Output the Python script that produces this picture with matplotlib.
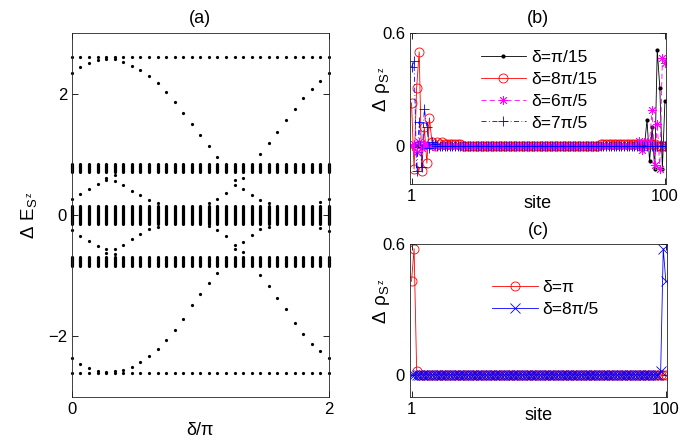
import numpy as np
import matplotlib.pyplot as plt

plt.rcParams['font.family'] = ['Liberation Sans', 'DejaVu Sans']
plt.rcParams['mathtext.default'] = 'regular'
plt.rcParams['font.size'] = 12

# ---- (a) spectrum against delta/pi ----
delta = np.linspace(0, 2, 31)
flat_E = [2.61, -2.61]
band_lo = [0.70, -0.15, -0.84]
band_hi = [0.84, 0.15, -0.70]

out_col = [0, 1, 2, 3, 4, 5, 6, 7, 8, 9, 10, 11, 12, 13, 14, 15, 16, 17,
           22, 23, 24, 25, 26, 27, 28, 29, 30]
out_up = [2.34, 2.43, 2.50, 2.55, 2.57, 2.57, 2.52, 2.46, 2.39, 2.29, 2.17, 2.02,
          1.86, 1.68, 1.50, 1.31, 1.13, 0.95,
          1.01, 1.18, 1.37, 1.56, 1.74, 1.92, 2.07, 2.21, 2.34]
out_dn = [-2.36, -2.45, -2.52, -2.57, -2.59, -2.58, -2.55, -2.50, -2.43, -2.33, -2.21, -2.06,
          -1.90, -1.71, -1.49, -1.31, -1.13, -0.96,
          -0.99, -1.18, -1.37, -1.55, -1.78, -1.96, -2.12, -2.25, -2.36]

in_col = [0, 1, 2, 3, 4, 4, 5, 5, 6, 7, 8, 9, 10,
          16, 17, 18, 19, 19, 20, 20, 21, 22, 23, 29, 30]
in_up = [0.27, 0.35, 0.42, 0.51, 0.57, 0.61, 0.56, 0.65, 0.49, 0.40, 0.32, 0.25, 0.20,
         0.19, 0.26, 0.36, 0.49, 0.57, 0.43, 0.61, 0.32, 0.24, 0.20, 0.21, 0.27]
in_dn = [-0.25, -0.35, -0.43, -0.52, -0.56, -0.63, -0.56, -0.64, -0.49, -0.40, -0.32, -0.24, -0.20,
         -0.19, -0.25, -0.35, -0.49, -0.57, -0.45, -0.61, -0.33, -0.24, -0.20, -0.21, -0.27]

# ---- (b) and (c) edge densities over 100 sites ----
sites = np.arange(1, 101)
b1_right = [0.0, 0.14, -0.08, 0.10, -0.12, 0.51, 0.31, -0.12, 0.24]        # sites 92-100
b2_left = [0.23, -0.12, 0.31, 0.50, -0.13, 0.10, -0.09, 0.15, 0.02, 0.0, 0.02, 0.01, 0.02]  # 1-13
b2_small = 0.01                                                                # sites 14-20, 75-96
b3_left = [0.0, 0.01, -0.03, 0.02, -0.01, 0.01]                               # sites 1-6
b3_right = [0.03, -0.02, 0.02, 0.0, 0.03, 0.19, -0.10, 0.12, -0.12, 0.47, 0.44]  # 90-100
b4_left = [0.42, 0.45, -0.13, 0.13, -0.11, 0.20, 0.10, -0.01, 0.02, 0.01]     # sites 1-10
b_labels = ['δ=π/15', 'δ=8π/15', 'δ=6π/5', 'δ=7π/5']

c1_left = [0.43, 0.58, 0.02]     # sites 1-3
c2_right = [0.02, 0.58, 0.43]    # sites 98-100
c_labels = ['δ=π', 'δ=8π/5']

b1 = np.zeros(100); b1[91:] = b1_right
b2 = np.zeros(100); b2[:13] = b2_left; b2[13:20] = b2_small; b2[74:96] = b2_small
b3 = np.zeros(100); b3[:6] = b3_left; b3[89:] = b3_right
b4 = np.zeros(100); b4[:10] = b4_left
c1 = np.zeros(100); c1[:3] = c1_left
c2 = np.zeros(100); c2[97:] = c2_right

fig = plt.figure(figsize=(6.85, 4.44), dpi=100)
ax_a = fig.add_axes([0.105, 0.106, 0.375, 0.820])
ax_b = fig.add_axes([0.5985, 0.5856, 0.3737, 0.340])
ax_c = fig.add_axes([0.5985, 0.1065, 0.375, 0.3433])

for lo, hi in zip(band_lo, band_hi):
    ax_a.vlines(delta, lo, hi, color='k', lw=2.3, capstyle='round', clip_on=False)
for E in flat_E:
    ax_a.plot(delta, np.full(31, E), 'ko', ms=2.3, mew=0, clip_on=False)
ax_a.plot(delta[out_col], out_up, 'ko', ms=2.3, mew=0, clip_on=False)
ax_a.plot(delta[out_col], out_dn, 'ko', ms=2.3, mew=0, clip_on=False)
ax_a.plot(delta[in_col], in_up, 'ko', ms=2.3, mew=0, clip_on=False)
ax_a.plot(delta[in_col], in_dn, 'ko', ms=2.3, mew=0, clip_on=False)
ax_a.set_xlim(0, 2)
ax_a.set_ylim(-3, 3)
ax_a.set_xticks([0, 2])
ax_a.set_yticks([-2, 0, 2])
ax_a.set_title('(a)', pad=7, fontsize=13)
ax_a.set_xlabel('δ/π', fontsize=13)
ax_a.set_ylabel(r'$\Delta\ E_{S^{\,z}}$', fontsize=13.5)
ax_a.xaxis.set_label_coords(0.5, -0.068)
ax_a.yaxis.set_label_coords(-0.13, 0.5)

ax_b.plot(sites, b1, '.-', color='k', lw=0.6, ms=4, label=b_labels[0])
ax_b.plot(sites, b2, 'o-', color='#ff0000', lw=0.6, ms=6.5, mfc='none', mew=0.6, label=b_labels[1])
ax_b.plot(sites, b3, '--', marker=(8, 2, 0), color='#ff00ff', lw=0.6, ms=6.5, mew=0.6,
          dashes=(6, 4), label=b_labels[2])
ax_b.plot(sites, b4, '-.', marker='+', color='#0000ff', lw=0.6, ms=7, mew=0.6,
          dashes=(6, 3, 1, 3), label=b_labels[3])
ax_b.set_xlim(0.4, 100.4)
ax_b.set_ylim(-0.2, 0.6)
ax_b.set_xticks([1, 100])
ax_b.set_yticks([0, 0.6])
ax_b.set_yticklabels(['0', '0.6'])
ax_b.set_title('(b)', pad=7, fontsize=13)
ax_b.set_xlabel('site', fontsize=13)
ax_b.set_ylabel(r'$\Delta\ \rho_{S^{\,z}}$', fontsize=13.5)
ax_b.xaxis.set_label_coords(0.5, -0.07)
ax_b.yaxis.set_label_coords(-0.07, 0.63)
ax_b.legend(loc='upper left', bbox_to_anchor=(0.215, 0.99), frameon=False, fontsize=12.5,
            handlelength=2.6, handletextpad=0.3, labelspacing=0.38, borderpad=0.4)

ax_c.plot(sites, c1, 'o-', color='#ff0000', lw=0.6, ms=6.5, mfc='none', mew=0.6, label=c_labels[0])
ax_c.plot(sites, c2, 'x-', color='#0000ff', lw=0.6, ms=6.5, mew=0.6, label=c_labels[1])
ax_c.set_xlim(0.4, 100.4)
ax_c.set_ylim(-0.1, 0.6)
ax_c.set_xticks([1, 100])
ax_c.set_yticks([0, 0.6])
ax_c.set_yticklabels(['0', '0.6'])
ax_c.set_title('(c)', pad=7, fontsize=13)
ax_c.set_xlabel('site', fontsize=13)
ax_c.set_ylabel(r'$\Delta\ \rho_{S^{\,z}}$', fontsize=13.5)
ax_c.xaxis.set_label_coords(0.5, -0.066)
ax_c.yaxis.set_label_coords(-0.07, 0.63)
ax_c.legend(loc='upper left', bbox_to_anchor=(0.26, 0.87), frameon=False, fontsize=12.5,
            handlelength=2.6, handletextpad=0.3, labelspacing=0.38, borderpad=0.4)

for ax in (ax_a, ax_b, ax_c):
    ax.tick_params(direction='in', length=4, width=0.6, top=True, right=True, labelsize=12)
    for s in ax.spines.values():
        s.set_linewidth(0.6)
        s.set_color('#222222')

fig.savefig('out.png', dpi=100)
